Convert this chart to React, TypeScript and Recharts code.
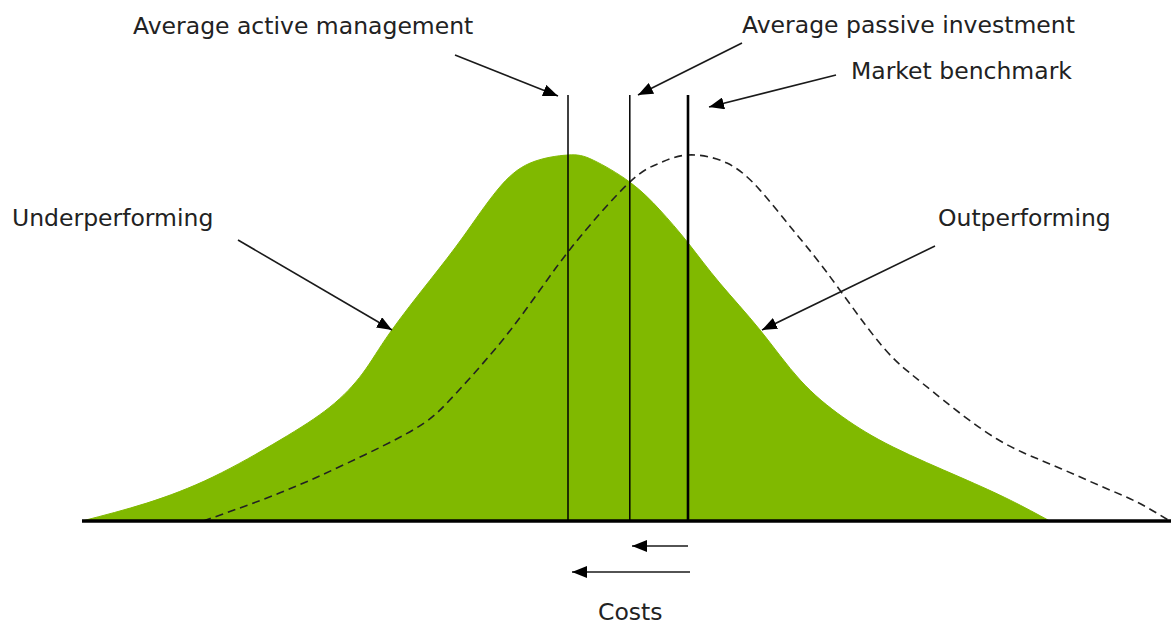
import React from 'react';
import { ComposedChart, Area, Line, XAxis, YAxis, ReferenceLine } from 'recharts';

// Return (relative to market benchmark) vs. density (peak = 1)
const activeReturns = [-10.1, -9.02, -7.92, -6.8, -5.97, -5.42, -4.97, -4.3, -3.75, -3.18, -2.63, -2.0, -1.58, -0.97, -0.47, 0.0, 0.53, 1.2, 1.87, 2.58, 3.42, 4.53, 5.37, 6.03];
const activeDensity = [0, 0.049, 0.12, 0.221, 0.311, 0.404, 0.514, 0.658, 0.776, 0.904, 0.978, 1.0, 0.986, 0.926, 0.85, 0.76, 0.65, 0.522, 0.385, 0.284, 0.202, 0.12, 0.057, 0];

const benchReturns = [-8.08, -6.8, -5.68, -4.58, -4.02, -3.47, -2.92, -2.35, -1.8, -0.97, -0.47, 0.0, 0.65, 1.2, 1.75, 2.32, 3.15, 3.7, 4.25, 5.15, 6.03, 6.87, 7.48, 8.03];
const benchDensity = [0, 0.077, 0.158, 0.249, 0.322, 0.421, 0.53, 0.658, 0.776, 0.926, 0.978, 1.0, 0.978, 0.904, 0.795, 0.678, 0.495, 0.404, 0.331, 0.224, 0.156, 0.096, 0.052, 0];

const avgActive = -2.0;
const avgPassive = -0.97;
const marketBenchmark = 0.0;
const markerTop = 1.164;

const xDomain: [number, number] = [-10.1, 8.05];
const yDomain: [number, number] = [0, 1.4235];

const activeData = activeReturns.map((x, i) => ({ x, y: activeDensity[i] }));
const benchData = benchReturns.map((x, i) => ({ x, y: benchDensity[i] }));

const FONT = '"DejaVu Sans", Verdana, sans-serif';

const texts = [
  { t: 'Average active management', x: 133, y: 34 },
  { t: 'Average passive investment', x: 742, y: 33 },
  { t: 'Market benchmark', x: 851, y: 79 },
  { t: 'Underperforming', x: 12, y: 226 },
  { t: 'Outperforming', x: 938, y: 226 },
  { t: 'Costs', x: 598, y: 620 },
];

const arrows = [
  [455, 55, 558, 96],
  [742, 43, 638, 95],
  [836, 75, 709, 107],
  [238, 240, 392, 330],
  [935, 246, 762, 330],
  [688, 546, 632, 546],
  [690, 572, 572, 572],
];

export default function App() {
  return (
    <div style={{ position: 'absolute', left: 0, top: 0, width: 1171, height: 625, background: '#fff' }}>
      <ComposedChart width={1171} height={625} margin={{ top: 0, right: 0, bottom: 104, left: 82 }}>
        <XAxis type="number" dataKey="x" domain={xDomain} allowDataOverflow hide />
        <YAxis type="number" dataKey="y" domain={yDomain} allowDataOverflow hide />
        <Area
          data={activeData}
          dataKey="y"
          type="natural"
          fill="#80B900"
          fillOpacity={1}
          stroke="#80B900"
          strokeWidth={1}
          isAnimationActive={false}
          dot={false}
          activeDot={false}
        />
        <Line
          data={benchData}
          dataKey="y"
          type="natural"
          stroke="#222"
          strokeWidth={1.6}
          strokeDasharray="8 5"
          dot={false}
          activeDot={false}
          isAnimationActive={false}
        />
        <ReferenceLine
          segment={[{ x: avgActive, y: 0 }, { x: avgActive, y: markerTop }]}
          stroke="#000"
          strokeWidth={1.5}
          ifOverflow="visible"
        />
        <ReferenceLine
          segment={[{ x: avgPassive, y: 0 }, { x: avgPassive, y: markerTop }]}
          stroke="#000"
          strokeWidth={1.5}
          ifOverflow="visible"
        />
        <ReferenceLine
          segment={[{ x: marketBenchmark, y: 0 }, { x: marketBenchmark, y: markerTop }]}
          stroke="#000"
          strokeWidth={2.6}
          ifOverflow="visible"
        />
        <ReferenceLine y={0} stroke="#000" strokeWidth={3.4} ifOverflow="visible" />
      </ComposedChart>
      <svg
        width={1171}
        height={625}
        style={{ position: 'absolute', left: 0, top: 0, pointerEvents: 'none' }}
      >
        <defs>
          <marker
            id="ah"
            markerWidth="15"
            markerHeight="12"
            refX="15"
            refY="6"
            orient="auto"
            markerUnits="userSpaceOnUse"
          >
            <path d="M0,0 L15,6 L0,12 z" fill="#000" />
          </marker>
        </defs>
        {arrows.map((a, i) => (
          <line
            key={i}
            x1={a[0]}
            y1={a[1]}
            x2={a[2]}
            y2={a[3]}
            stroke="#1a1a1a"
            strokeWidth={1.6}
            markerEnd="url(#ah)"
          />
        ))}
        {texts.map((t, i) => (
          <text key={i} x={t.x} y={t.y} fontFamily={FONT} fontSize={23.5} fill="#222">
            {t.t}
          </text>
        ))}
      </svg>
    </div>
  );
}
